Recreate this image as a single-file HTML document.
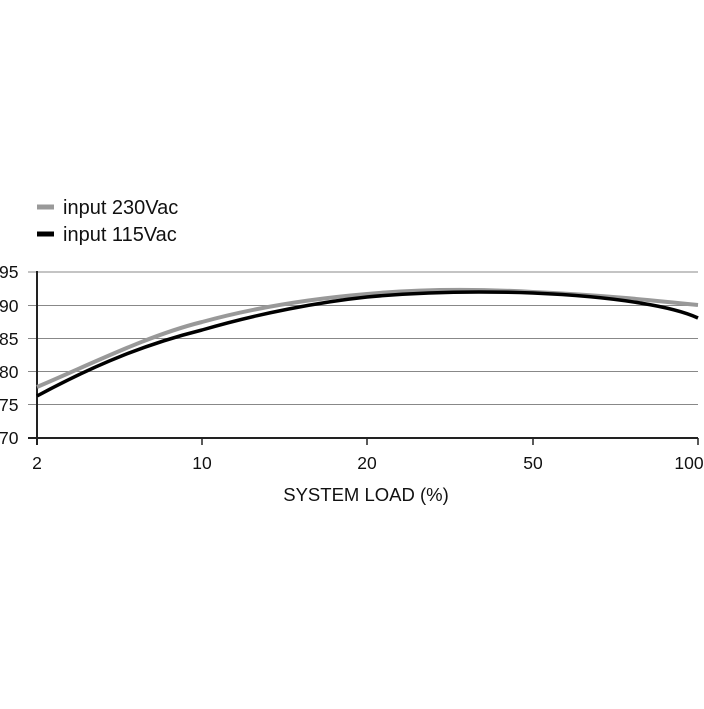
<!DOCTYPE html>
<html><head><style>
body{margin:0;background:#fff;}
text{font-family:"Liberation Sans",sans-serif;fill:#111;}
</style></head><body>
<svg width="704" height="704" viewBox="0 0 704 704" xmlns="http://www.w3.org/2000/svg">
<rect width="704" height="704" fill="#fff"/>
<line x1="37" y1="207" x2="54" y2="207" stroke="#999" stroke-width="5"/>
<line x1="37" y1="234" x2="54" y2="234" stroke="#000" stroke-width="5"/>
<text x="63" y="214" font-size="20">input 230Vac</text>
<text x="63" y="241" font-size="20">input 115Vac</text>
<g stroke="#888" stroke-width="1">
<line x1="28" y1="272" x2="698" y2="272"/>
<line x1="28" y1="305.5" x2="698" y2="305.5"/>
<line x1="28" y1="338.5" x2="698" y2="338.5"/>
<line x1="28" y1="371.5" x2="698" y2="371.5"/>
<line x1="28" y1="404.5" x2="698" y2="404.5"/>
</g>
<line x1="28" y1="438" x2="698" y2="438" stroke="#222" stroke-width="2"/>
<line x1="37" y1="271" x2="37" y2="445" stroke="#222" stroke-width="2"/>
<g stroke="#222" stroke-width="1.5">
<line x1="202" y1="438" x2="202" y2="445"/>
<line x1="367" y1="438" x2="367" y2="445"/>
<line x1="533" y1="438" x2="533" y2="445"/>
<line x1="698" y1="438" x2="698" y2="445"/>
</g>
<g font-size="17.5">
<text x="-1" y="278">95</text>
<text x="-1" y="312">90</text>
<text x="-1" y="345">85</text>
<text x="-1" y="378">80</text>
<text x="-1" y="411">75</text>
<text x="-1" y="444">70</text>
</g>
<g font-size="17.5" text-anchor="middle">
<text x="37" y="469">2</text>
<text x="202" y="469">10</text>
<text x="367" y="469">20</text>
<text x="533" y="469">50</text>
<text x="689" y="469">100</text>
</g>
<text x="366" y="501" font-size="18.5" text-anchor="middle">SYSTEM LOAD (%)</text>
<path d="M37,387 C100,360 150,335 202,322 C260,306 320,298 367,294 C420,289 480,289 533,292 C600,295 650,300 698,305" fill="none" stroke="#999" stroke-width="4"/>
<path d="M37,396 C100,362 150,343 202,330 C260,313 320,302 367,297 C420,292 480,291 533,293 C580,295 610,298 640,303 C665,307 685,312 698,318" fill="none" stroke="#000" stroke-width="3.5"/>
</svg>
</body></html>
